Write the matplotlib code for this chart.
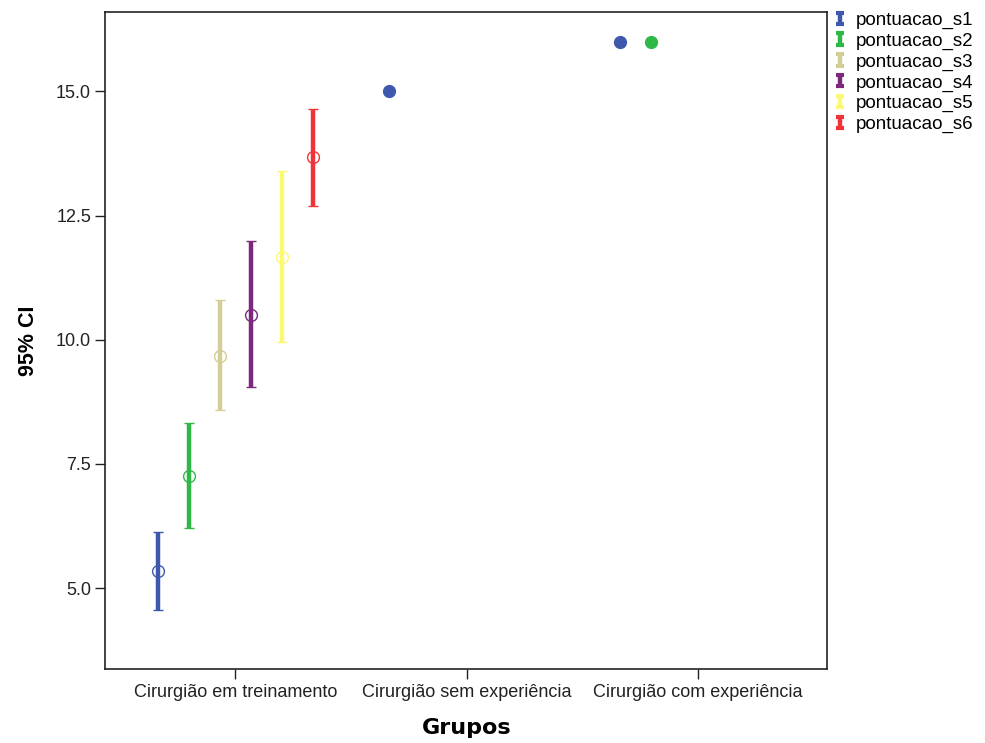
import matplotlib
matplotlib.use("Agg")
import matplotlib.pyplot as plt
import matplotlib.container as mc
from matplotlib.legend_handler import HandlerErrorbar
import numpy as np

plt.rcParams['font.family'] = ['Liberation Sans', 'DejaVu Sans']

groups = ["Cirurgião em treinamento", "Cirurgião sem experiência", "Cirurgião com experiência"]
series = ["pontuacao_s1", "pontuacao_s2", "pontuacao_s3", "pontuacao_s4", "pontuacao_s5", "pontuacao_s6"]
colors = ["#3E58AC", "#2EB848", "#D3CE97", "#7C287D", "#FBF873", "#EF3338"]

# mean, lower, upper per series for each group (None = no data)
means = [
    [5.34, 7.26, 9.68, 10.50, 11.67, 13.67],
    [15.0, None, None, None, None, None],
    [16.0, 16.0, None, None, None, None],
]
lower = [
    [4.56, 6.21, 8.59, 9.05, 9.96, 12.70],
    [15.0, None, None, None, None, None],
    [16.0, 16.0, None, None, None, None],
]
upper = [
    [6.13, 8.33, 10.79, 11.98, 13.39, 14.64],
    [15.0, None, None, None, None, None],
    [16.0, 16.0, None, None, None, None],
]

fig = plt.figure(figsize=(9.85, 7.43), dpi=100)
ax = fig.add_axes([0.1066, 0.0995, 0.7335, 0.8845])

step = 0.134
for g in range(len(groups)):
    for i, name in enumerate(series):
        m = means[g][i]
        if m is None:
            continue
        x = g + (i - 2.5) * step
        lo, hi = lower[g][i], upper[g][i]
        face = colors[i] if hi - lo == 0 else 'none'
        ax.errorbar([x], [m], yerr=[[m - lo], [hi - m]], fmt='o', color=colors[i],
                    ecolor=colors[i], elinewidth=3.2, capsize=3.3, capthick=3.2,
                    markersize=8.5, markerfacecolor=face,
                    markeredgecolor=colors[i], markeredgewidth=1.0)

ax.set_xlim(-0.563, 2.56)
ax.set_ylim(3.37, 16.6)
ax.set_xticks(range(len(groups)))
ax.set_xticklabels(groups, fontsize=13, color="#222222")
ax.set_yticks([5.0, 7.5, 10.0, 12.5, 15.0])
ax.set_yticklabels(["5.0", "7.5", "10.0", "12.5", "15.0"], fontsize=13, color="#222222")
ax.tick_params(axis='both', direction='out', length=7, width=1, colors="#222222")
ax.tick_params(axis='x', pad=4)
ax.tick_params(axis='y', pad=3)
for sp in ax.spines.values():
    sp.set_color("#222222")
    sp.set_linewidth(1.2)

ax.set_xlabel("Grupos", fontsize=16, fontweight='bold', labelpad=12,
              family=['DejaVu Sans'])
ax.set_ylabel("95% CI", fontsize=15.5, fontweight='bold', labelpad=12)

# legend icons: plain I-beam error bars
legh = []
for i, name in enumerate(series):
    e = ax.errorbar([np.nan], [np.nan], yerr=[[0], [0]], fmt='none',
                    ecolor=colors[i], elinewidth=3.2, capsize=3.0, capthick=3.0)
    legh.append(e)

ax.legend(legh, series, loc='upper left', bbox_to_anchor=(0.987, 1.026), frameon=False,
          fontsize=13.5, handlelength=0.5, handletextpad=0.6,
          labelspacing=0.19, borderaxespad=0.5,
          handler_map={mc.ErrorbarContainer: HandlerErrorbar(yerr_size=0.3, numpoints=1)})

fig.savefig("out.png", dpi=100, facecolor="white")
